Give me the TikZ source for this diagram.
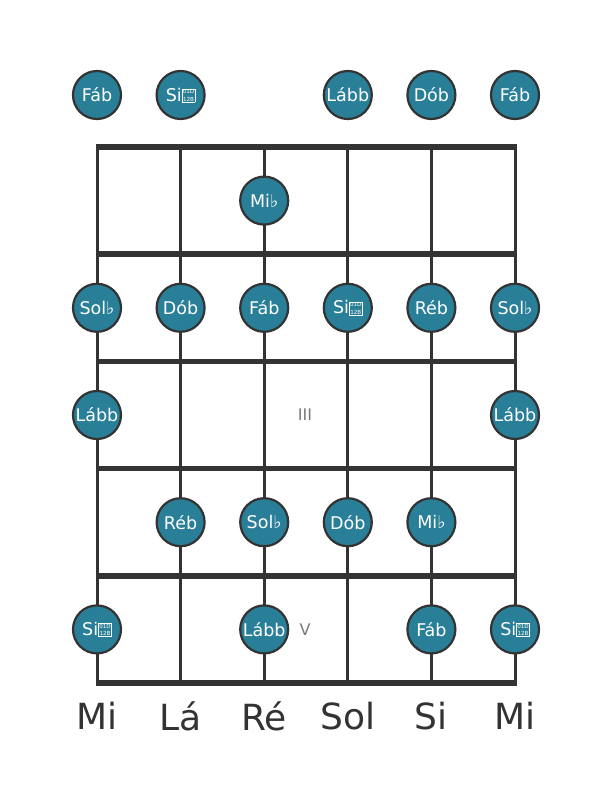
\documentclass[tikz,border=0pt]{standalone}
\usepackage{fontspec}
\setmainfont{DejaVu Sans}
\definecolor{notefill}{HTML}{2A7F98}
\definecolor{linecol}{HTML}{333333}
\definecolor{romcol}{HTML}{7A7A7A}
\newcommand{\tofuglyph}{{\setlength{\fboxsep}{0.5pt}\setlength{\fboxrule}{0.55pt}\raisebox{-0.2pt}{\fbox{\fontsize{5.6}{5.4}\selectfont\shortstack{01D\\12B}}}}}
\tikzset{
  note/.style={circle, draw=linecol, line width=2.2pt, fill=notefill, minimum size=48pt, inner sep=0pt, text=white, font=\fontsize{17.5}{19}\selectfont},
  stringline/.style={draw=linecol, line width=3pt},
  fretline/.style={draw=linecol, line width=5.5pt},
  strname/.style={text=linecol, font=\fontsize{36}{40}\selectfont},
  roman/.style={text=romcol, font=\fontsize{16}{18}\selectfont}
}
\begin{document}
\begin{tikzpicture}[x=1pt,y=-1pt]
\useasboundingbox (0,0) rectangle (611,801);
\fill[white] (0,0) rectangle (611,801);
% strings
\foreach \sx in {97,180.6,264.2,347.8,431.4,515}{
  \draw[stringline] (\sx,147) -- (\sx,683);
}
% frets
\foreach \fy in {147,254.2,361.4,468.6,575.8,683}{
  \draw[fretline] (95.5,\fy) -- (516.5,\fy);
}
% position markers
\node[roman] (m3) at (305,415) {III};
\node[roman] (m5) at (305,630) {V};
% open strings
\node[note] (o1) at (97,95) {Fáb};
\node[note] (o2) at (180.6,95) {Si\tofuglyph};
\node[note] (o4) at (347.8,95) {Lább};
\node[note] (o5) at (431.4,95) {Dób};
\node[note] (o6) at (515,95) {Fáb};
% fret 1
\node[note] (f1s3) at (264.2,200.6) {Mi♭};
% fret 2
\node[note] (f2s1) at (97,307.8) {Sol♭};
\node[note] (f2s2) at (180.6,307.8) {Dób};
\node[note] (f2s3) at (264.2,307.8) {Fáb};
\node[note] (f2s4) at (347.8,307.8) {Si\tofuglyph};
\node[note] (f2s5) at (431.4,307.8) {Réb};
\node[note] (f2s6) at (515,307.8) {Sol♭};
% fret 3
\node[note] (f3s1) at (97,415) {Lább};
\node[note] (f3s6) at (515,415) {Lább};
% fret 4
\node[note] (f4s2) at (180.6,522.2) {Réb};
\node[note] (f4s3) at (264.2,522.2) {Sol♭};
\node[note] (f4s4) at (347.8,522.2) {Dób};
\node[note] (f4s5) at (431.4,522.2) {Mi♭};
% fret 5
\node[note] (f5s1) at (97,629.4) {Si\tofuglyph};
\node[note] (f5s3) at (264.2,629.4) {Lább};
\node[note] (f5s5) at (431.4,629.4) {Fáb};
\node[note] (f5s6) at (515,629.4) {Si\tofuglyph};
% string names
\node[strname] (n1) at (97,716) {Mi};
\node[strname] (n2) at (180.6,716) {Lá};
\node[strname] (n3) at (264.2,716) {Ré};
\node[strname] (n4) at (347.8,716) {Sol};
\node[strname] (n5) at (431.4,716) {Si};
\node[strname] (n6) at (515,716) {Mi};
\end{tikzpicture}
\end{document}
